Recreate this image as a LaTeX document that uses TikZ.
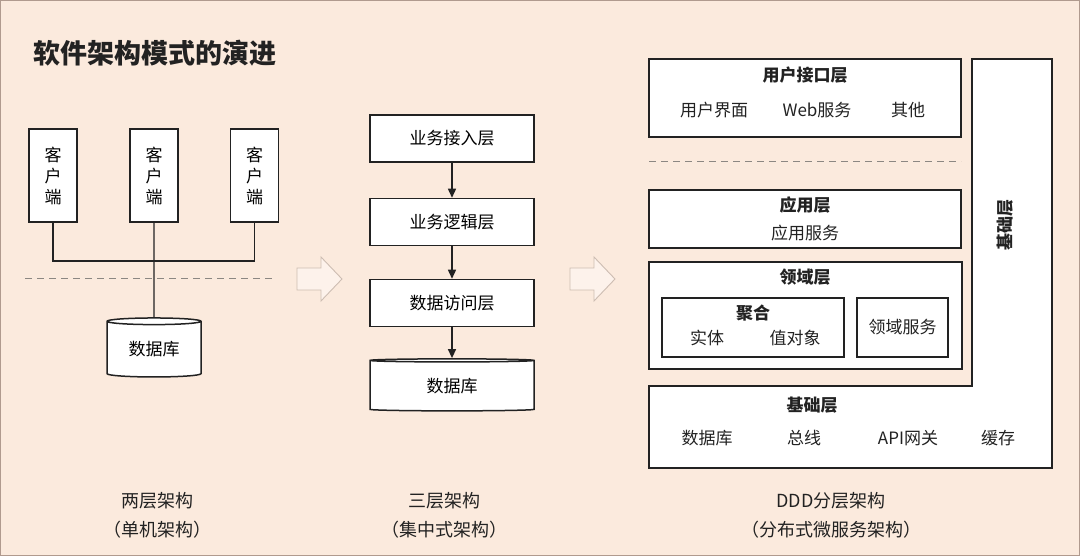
\documentclass[tikz,border=0pt]{standalone}
\usepackage{fontspec}
\setmainfont{Noto Sans CJK SC}
\usetikzlibrary{arrows.meta,shapes.geometric,calc}

\definecolor{bgpeach}{HTML}{FBEADD}
\definecolor{framebrown}{HTML}{B09A8E}
\definecolor{dashgray}{HTML}{8C8782}
\definecolor{arrowgray}{HTML}{CDBDB2}
\definecolor{inkdark}{HTML}{222222}

\tikzset{
  box/.style={draw=inkdark, line width=1.5pt, fill=white, inner sep=0pt},
  client/.style={box, minimum width=48, minimum height=93, align=center,
    font=\fontsize{17}{21}\selectfont},
  tier/.style={box, minimum width=164, minimum height=47,
    font=\fontsize{17}{20}\selectfont},
  dbase/.style={box, cylinder, shape border rotate=90,
    font=\fontsize{17}{20}\selectfont},
  layer/.style={box},
  wire/.style={draw=inkdark, line width=1.4pt},
  flow/.style={wire, -{Triangle[length=9pt,width=8pt]}},
  sepline/.style={draw=dashgray, line width=1pt, dash pattern=on 7pt off 5pt},
  hollow/.style={draw=arrowgray, line width=0.9pt, fill=bgpeach!60!white},
  txt/.style={text=inkdark, inner sep=0pt, font=\fontsize{17}{20}\selectfont},
  head/.style={txt, font=\fontsize{17}{20}\selectfont\bfseries},
  caption/.style={text=inkdark, align=center, inner sep=0pt,
    font=\fontsize{18}{29}\selectfont}
}

\begin{document}
\begin{tikzpicture}[x=1pt,y=-1pt]

  % background and frame
  \fill[bgpeach] (0,0) rectangle (1080,556);
  \useasboundingbox (0,0) rectangle (1080,556);
  \draw[framebrown, line width=1.4pt] (0.7,0.7) rectangle (1079.3,555.3);

  % title
  \node[anchor=west, text=inkdark, inner sep=0pt,
    font=\fontsize{27}{30}\selectfont\bfseries] (title) at (33,53) {软件架构模式的演进};

  %----------------------------------------
  % two tiers
  %----------------------------------------
  \node[client] (c1) at (53,175.5) {客\\户\\端};
  \node[client] (c2) at (154,175.5) {客\\户\\端};
  \node[client] (c3) at (254.5,175.5) {客\\户\\端};
  \node[dbase, minimum width=94, minimum height=59, aspect=0.13] (db1) at (154,349.5) {数据库};

  \coordinate (bus) at (154,261);
  \draw[wire] (c1.south) |- (bus) -| (c3.south);
  \draw[wire] (c2.south) -- (db1.north);
  \draw[sepline] (25,279) -- (273,279);

  %----------------------------------------
  % three tiers
  %----------------------------------------
  \node[tier] (m1) at (452,138.5) {业务接入层};
  \node[tier] (m2) at (452,222) {业务逻辑层};
  \node[tier] (m3) at (452,303) {数据访问层};
  \node[dbase, minimum width=164, minimum height=52, aspect=0.06] (db2) at (452,386) {数据库};

  \draw[flow] (m1) -- (m2);
  \draw[flow] (m2) -- (m3);
  \draw[flow] (m3) -- (db2.north);

  % hollow arrows
  \foreach \x in {297,570}
    \draw[hollow] (\x,268) -- ++(24,0) -- ++(0,-11) -- ++(21,22)
      -- ++(-21,22) -- ++(0,-11) -- ++(-24,0) -- cycle;

  %----------------------------------------
  % DDD layers
  %----------------------------------------
  \draw[layer] (649,386) -- (972,386) -- (972,59) -- (1052,59)
    -- (1052,468) -- (649,468) -- cycle;

  \node[layer, minimum width=312, minimum height=78] (ui) at (805,98) {};
  \node[layer, minimum width=312, minimum height=58] (app) at (805,219) {};
  \node[layer, minimum width=313, minimum height=107] (dom) at (805.5,315.5) {};
  \node[layer, minimum width=182, minimum height=59] (agg) at (753,327.5) {};
  \node[layer, minimum width=91, minimum height=59, txt] (dsvc) at (902.5,327.5) {领域服务};

  \draw[sepline] (649,162) -- (961,162);

  \node[head] (uihead) at (805,75) {用户接口层};
  \node[txt] (uiview) at (714,110) {用户界面};
  \node[txt] (uiweb) at (817,110) {Web服务};
  \node[txt] (uimisc) at (908,110) {其他};

  \node[head] (apphead) at (805,205) {应用层};
  \node[txt] (appsvc) at (805,233) {应用服务};

  \node[head] (domhead) at (805,277) {领域层};
  \node[head] (agghead) at (753,313) {聚合};
  \node[txt] (entity) at (707,338) {实体};
  \node[txt] (valobj) at (795,338) {值对象};

  \node[head] (infhead) at (812,405) {基础层};
  \node[txt] (infdb) at (707,438) {数据库};
  \node[txt] (infbus) at (804,438) {总线};
  \node[txt] (infgw) at (908,438) {API网关};
  \node[txt] (infcache) at (998,438) {缓存};
  \node[head, rotate=90] (infside) at (1005,225) {基础层};

  %----------------------------------------
  % captions
  %----------------------------------------
  \node[caption] (cap1) at (157,515.5) {两层架构\\（单机架构）};
  \node[caption] (cap2) at (444,515.5) {三层架构\\（集中式架构）};
  \node[caption] (cap3) at (831,515.5) {DDD分层架构\\（分布式微服务架构）};

\end{tikzpicture}
\end{document}
